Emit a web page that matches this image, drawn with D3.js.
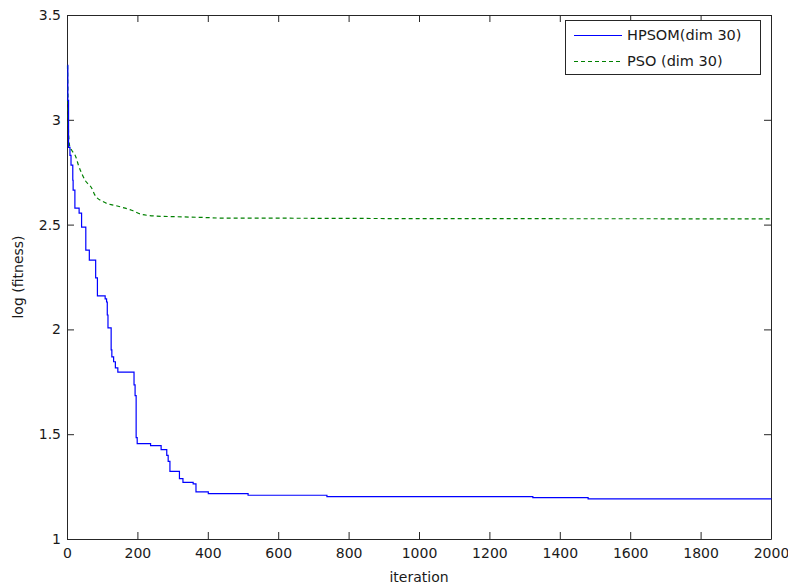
<!DOCTYPE html>
<html lang="en">
<head>
<meta charset="UTF-8">
<title>HPSOM vs PSO</title>
<script src="https://d3js.org/d3.v7.min.js"></script>
<style>
    body { margin: 0; background: #fff; }
    svg { display: block; }
    text { font-family: "DejaVu Sans", sans-serif; }
    .axis text { font-size: 14px; fill: #1a1a1a; }
    .axis line, .axis path { stroke: #262626; }
</style>
</head>
<body>
<div id="chart"></div>
<script>
// Data (iteration, log fitness)
var seriesNames = ["HPSOM(dim 30)", "PSO (dim 30)"];

// HPSOM: stepwise best-so-far, each point holds until the next one
var hpsomIter = [0, 1, 3, 7, 10, 15, 16, 21, 33, 40, 52, 62, 80, 85, 107, 111, 113, 115,
    124, 126, 131, 136, 143, 189, 192, 195, 198, 236, 266, 282, 286, 291, 318, 328,
    357, 365, 400, 513, 737, 1322, 1479, 2000];
var hpsomVal = [3.262, 3.095, 2.871, 2.833, 2.786, 2.714, 2.667, 2.581, 2.557, 2.49, 2.381,
    2.333, 2.248, 2.162, 2.148, 2.133, 2.071, 2.01, 1.905, 1.871, 1.848, 1.819, 1.799,
    1.738, 1.686, 1.486, 1.457, 1.448, 1.429, 1.401, 1.373, 1.325, 1.29, 1.273,
    1.265, 1.227, 1.219, 1.211, 1.205, 1.2, 1.194, 1.194];

// PSO
var psoIter = [0, 1.4, 3, 7, 12, 24, 31, 40, 50, 69, 78, 102, 144, 182, 211, 253, 310,
    376, 452, 538, 1000, 2000];
var psoVal = [3.262, 3.095, 2.938, 2.871, 2.857, 2.824, 2.786, 2.748, 2.714, 2.676, 2.643,
    2.611, 2.590, 2.571, 2.551, 2.543, 2.540, 2.537, 2.533, 2.533, 2.531, 2.530];

var xTicks = [0, 200, 400, 600, 800, 1000, 1200, 1400, 1600, 1800, 2000];
var yTicks = [1, 1.5, 2, 2.5, 3, 3.5];

function drawChart() {
    var width = 788;
    var height = 588;
    var mLeft = 67, mRight = 771, mTop = 15, mBottom = 539;

    var svg = d3.select("#chart").append("svg")
        .attr("width", width)
        .attr("height", height);

    svg.append("rect")
        .attr("width", width)
        .attr("height", height)
        .attr("fill", "#fff");

    var xScale = d3.scaleLinear().domain([0, 2000]).range([mLeft, mRight]);
    var yScale = d3.scaleLinear().domain([1, 3.5]).range([mBottom, mTop]);

    // axes with inward ticks, MATLAB style
    svg.append("g")
        .attr("class", "axis")
        .attr("transform", "translate(0," + mBottom + ")")
        .call(d3.axisBottom(xScale).tickValues(xTicks).tickSize(-7).tickSizeOuter(0).tickPadding(9).tickFormat(d3.format("d")));

    svg.append("g")
        .attr("class", "axis")
        .attr("transform", "translate(0," + mTop + ")")
        .call(d3.axisTop(xScale).tickValues(xTicks).tickSize(-7).tickSizeOuter(0).tickFormat(""));

    svg.append("g")
        .attr("class", "axis")
        .attr("transform", "translate(" + mLeft + ",0)")
        .call(d3.axisLeft(yScale).tickValues(yTicks).tickSize(-7).tickSizeOuter(0).tickPadding(6).tickFormat(function(d){ return String(d); }));

    svg.append("g")
        .attr("class", "axis")
        .attr("transform", "translate(" + mRight + ",0)")
        .call(d3.axisRight(yScale).tickValues(yTicks).tickSize(-7).tickSizeOuter(0).tickFormat(""));

    // lines
    var hpsomData = hpsomIter.map(function(d, i){ return {x: d, y: hpsomVal[i]}; });
    var psoData = psoIter.map(function(d, i){ return {x: d, y: psoVal[i]}; });

    var stepLine = d3.line()
        .x(function(d){ return xScale(d.x) + 0.5; })
        .y(function(d){ return yScale(d.y) + 0.5; })
        .curve(d3.curveStepAfter);

    var smoothLine = d3.line()
        .x(function(d){ return xScale(d.x) + 0.5; })
        .y(function(d){ return yScale(d.y) + 0.5; })
        .curve(d3.curveMonotoneX);

    svg.append("path")
        .datum(psoData)
        .attr("d", smoothLine)
        .attr("fill", "none")
        .attr("stroke", "#008000")
        .attr("stroke-width", 1.2)
        .attr("stroke-dasharray", "4,3");

    svg.append("path")
        .datum(hpsomData)
        .attr("d", stepLine)
        .attr("fill", "none")
        .attr("stroke", "#0000ff")
        .attr("stroke-width", 1.2);

    // axis labels
    svg.append("text")
        .attr("x", (mLeft + mRight) / 2)
        .attr("y", 582)
        .attr("text-anchor", "middle")
        .attr("font-size", "14px")
        .attr("fill", "#1a1a1a")
        .text("iteration");

    svg.append("text")
        .attr("transform", "translate(23," + ((mTop + mBottom) / 2) + ") rotate(-90)")
        .attr("text-anchor", "middle")
        .attr("font-size", "14px")
        .attr("fill", "#1a1a1a")
        .text("log (fitness)");

    // legend
    var legend = svg.append("g");
    legend.append("rect")
        .attr("x", 565.5)
        .attr("y", 20.5)
        .attr("width", 195)
        .attr("height", 54)
        .attr("fill", "#fff")
        .attr("stroke", "#262626");

    var legendColors = ["#0000ff", "#008000"];
    var legendDash = ["none", "4,3"];
    var legendY = [35, 61];

    seriesNames.forEach(function(name, i){
        legend.append("line")
            .attr("x1", 574)
            .attr("x2", 622)
            .attr("y1", legendY[i] + 0.5)
            .attr("y2", legendY[i] + 0.5)
            .attr("stroke", legendColors[i])
            .attr("stroke-width", 1.2)
            .attr("stroke-dasharray", legendDash[i]);
        legend.append("text")
            .attr("x", 627)
            .attr("y", legendY[i])
            .attr("dy", "0.36em")
            .attr("font-size", "14.5px")
            .attr("fill", "#1a1a1a")
            .text(name);
    });
}

drawChart();
</script>
</body>
</html>
